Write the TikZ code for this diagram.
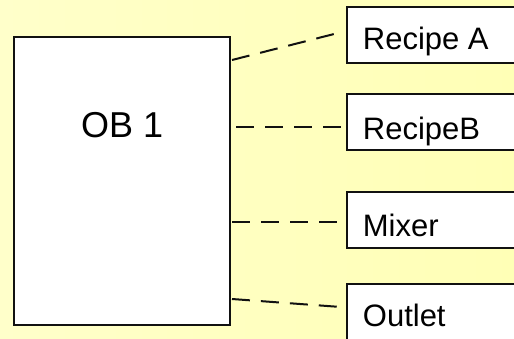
\documentclass[tikz,border=0pt]{standalone}
\usepackage{fontspec}
\setmainfont{Liberation Sans}
\definecolor{bgleft}{HTML}{FFFFCA}
\definecolor{bgright}{HTML}{FFFFB6}
\definecolor{ink}{HTML}{111111}
\tikzset{
  block/.style={draw=ink, line width=2.2pt, fill=white, rectangle, inner sep=0pt},
  lbl/.style={anchor=base west, inner sep=0pt, text=black, font=\fontsize{31}{31}\selectfont},
  link/.style={draw=ink, line width=2pt, dash pattern=on 18pt off 11pt}
}
\begin{document}
\begin{tikzpicture}[x=1pt, y=-1pt]
  % page and soft yellow backdrop
  \useasboundingbox (0,0) rectangle (514,338);
  \clip (0,0) rectangle (514,338);
  \shade[left color=bgleft, right color=bgright] (0,0) rectangle (514,338);

  % main organisation block
  \node[block, minimum width=216pt, minimum height=288pt, anchor=north west] (ob1) at (13,36) {};
  \node[lbl, font=\fontsize{36}{36}\selectfont] (ob1t) at (81,137.7) {OB 1};

  % called blocks on the right
  \node[block, minimum width=190pt, minimum height=56pt, anchor=north west] (ra) at (346,6) {};
  \node[block, minimum width=190pt, minimum height=56pt, anchor=north west] (rb) at (346,93) {};
  \node[block, minimum width=190pt, minimum height=56pt, anchor=north west] (mx) at (346,191) {};
  \node[block, minimum width=190pt, minimum height=70pt, anchor=north west] (ou) at (346,283) {};

  \node[lbl] (rat) at (362.7,49.3) {Recipe A};
  \node[lbl] (rbt) at (362.7,139.3) {RecipeB};
  \node[lbl] (mxt) at (362.7,236) {Mixer};
  \node[lbl] (out) at (362.7,326) {Outlet};

  % connector end points next to the blocks
  \coordinate (oa) at (232,60);   \coordinate (ea) at (338,33);
  \coordinate (ob) at (236,127);  \coordinate (eb) at (343,127);
  \coordinate (om) at (232,222);  \coordinate (em) at (343,222);
  \coordinate (oo) at (232,299);  \coordinate (eo) at (341,307);

  % dashed calls
  \draw[link] (oa) -- (ea);
  \draw[link] (ob) -- (eb);
  \draw[link] (om) -- (em);
  \draw[link] (oo) -- (eo);
\end{tikzpicture}
\end{document}
